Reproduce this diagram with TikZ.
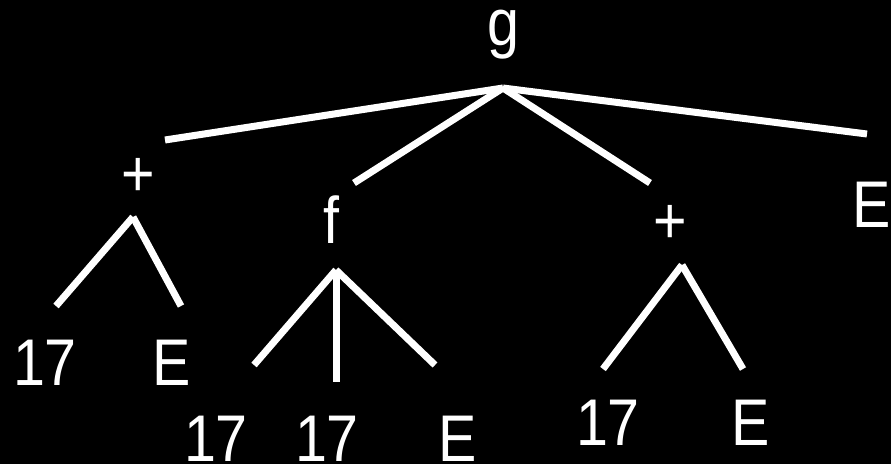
\documentclass[tikz,border=0pt]{standalone}
\usepackage{fontspec}
\setmainfont{Liberation Sans}[FakeStretch=0.87]

\begin{document}
\begin{tikzpicture}[x=1pt,y=-1pt,
        lbl/.style={text=white,font=\fontsize{66}{79}\selectfont,inner sep=0pt,anchor=base},
        edge/.style={draw=white,line width=7pt}]
        % 0. Background
        \path[use as bounding box,fill=black] (0,0) rectangle (891,464);

        % 1. Root g and its children
        \node (g) at (503,45) [lbl] {g};
        \node (plusl) at (138,196) [lbl] {+};
        \node (f) at (331,243) [lbl] {f};
        \node (plusr) at (670,243) [lbl] {+};
        \node (etop) at (872,227) [lbl] {E};

        \coordinate (gtop) at (503,88);
        \coordinate (gl) at (165,140);
        \coordinate (gf) at (354,183);
        \coordinate (gr) at (650,183);
        \coordinate (ge) at (867,134);
        \draw[edge] (gtop) -- (gl);
        \draw[edge] (gtop) -- (gf);
        \draw[edge] (gtop) -- (gr);
        \draw[edge] (gtop) -- (ge);

        % 2. Left + subtree
        \node (n1) at (45,385) [lbl] {17};
        \node (e1) at (172,385) [lbl] {E};
        \coordinate (pltop) at (133,217);
        \coordinate (pla) at (56,306);
        \coordinate (plb) at (181,306);
        \draw[edge] (pltop) -- (pla);
        \draw[edge] (pltop) -- (plb);

        % 3. f subtree
        \node (n2) at (216,461) [lbl] {17};
        \node (n3) at (327,461) [lbl] {17};
        \node (e2) at (458,461) [lbl] {E};
        \coordinate (ftop) at (336,270);
        \coordinate (fa) at (254,365);
        \coordinate (fb) at (336,382);
        \coordinate (fc) at (435,365);
        \draw[edge] (ftop) -- (fa);
        \draw[edge] (ftop) -- (fb);
        \draw[edge] (ftop) -- (fc);

        % 4. Right + subtree
        \node (n4) at (608,445) [lbl] {17};
        \node (e3) at (751,445) [lbl] {E};
        \coordinate (prtop) at (682,265);
        \coordinate (pra) at (603,369);
        \coordinate (prb) at (743,369);
        \draw[edge] (prtop) -- (pra);
        \draw[edge] (prtop) -- (prb);

    \end{tikzpicture}
\end{document}
